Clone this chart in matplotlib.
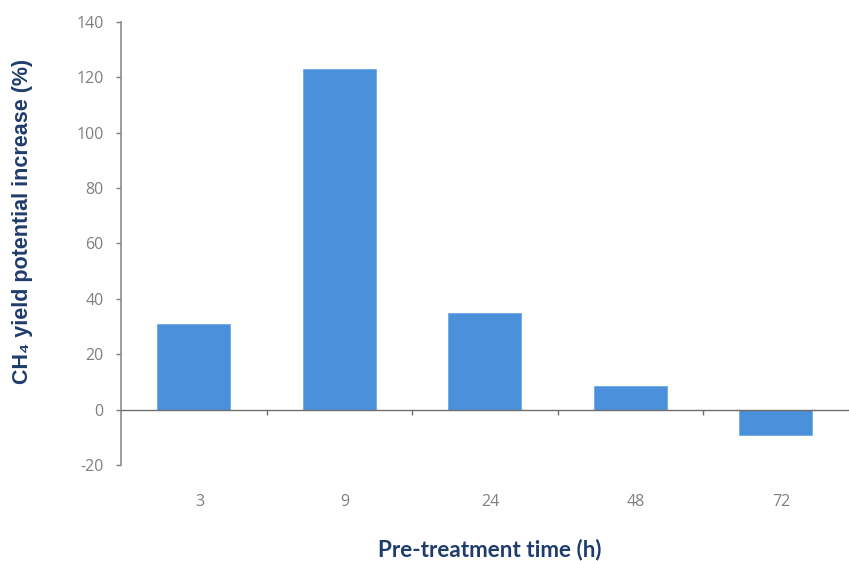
import matplotlib
matplotlib.use("Agg")
import matplotlib.pyplot as plt
import numpy as np

# data
categories = ["3", "9", "24", "48", "72"]
increase = [31, 123, 35, 8.4, -9.2]
y_ticks = [-20, 0, 20, 40, 60, 80, 100, 120, 140]

bar_color = "#4A90DA"
label_color = "#1F3C6C"
tick_color = "#7F7F7F"

fig = plt.figure(figsize=(8.49, 5.61), dpi=100)
ax = fig.add_axes([0.1425, 0.171, 0.857, 0.79])

x = np.arange(len(categories))
ax.bar(x, increase, width=0.5, color=bar_color, edgecolor="#6FA8E4", linewidth=0.6, zorder=2)

ax.set_xlim(-0.5, len(categories) - 0.5)
ax.set_ylim(-20, 140)
ax.set_yticks(y_ticks)
ax.set_yticklabels([str(v) for v in y_ticks], fontsize=11.5, color=tick_color, family="Open Sans")
ax.tick_params(axis="y", direction="out", length=3.6, width=1, color="#7F7F7F", pad=9)

# x axis line sits at zero, ticks between the categories
for s in ["top", "right"]:
    ax.spines[s].set_visible(False)
ax.spines["left"].set_color("#8C8C8C")
ax.spines["left"].set_linewidth(1.2)
ax.spines["bottom"].set_position(("data", 0))
ax.spines["bottom"].set_color("#6E6E6E")
ax.spines["bottom"].set_linewidth(1.0)
ax.set_xticks(x[:-1] + 0.5)
ax.set_xticklabels([])
ax.tick_params(axis="x", direction="out", length=3.6, width=1, color="#6E6E6E")

# category labels below the plot area
for xi, cat in zip(x, categories):
    ax.text(xi + 0.04, -33.5, cat, ha="center", va="center", fontsize=11.5, color=tick_color,
            family="Open Sans")

fig.text(0.026, 0.606, "CH\u2084 yield potential increase (%)", rotation=90, ha="center",
         va="center", fontsize=15.5, fontweight="bold", color=label_color,
         family=["Liberation Sans", "DejaVu Sans"])
fig.text(0.577, 0.021, "Pre-treatment time (h)", ha="center", va="center", fontsize=16.2,
         fontweight="bold", color=label_color, family="Lato")

fig.savefig("out.png", dpi=100)
